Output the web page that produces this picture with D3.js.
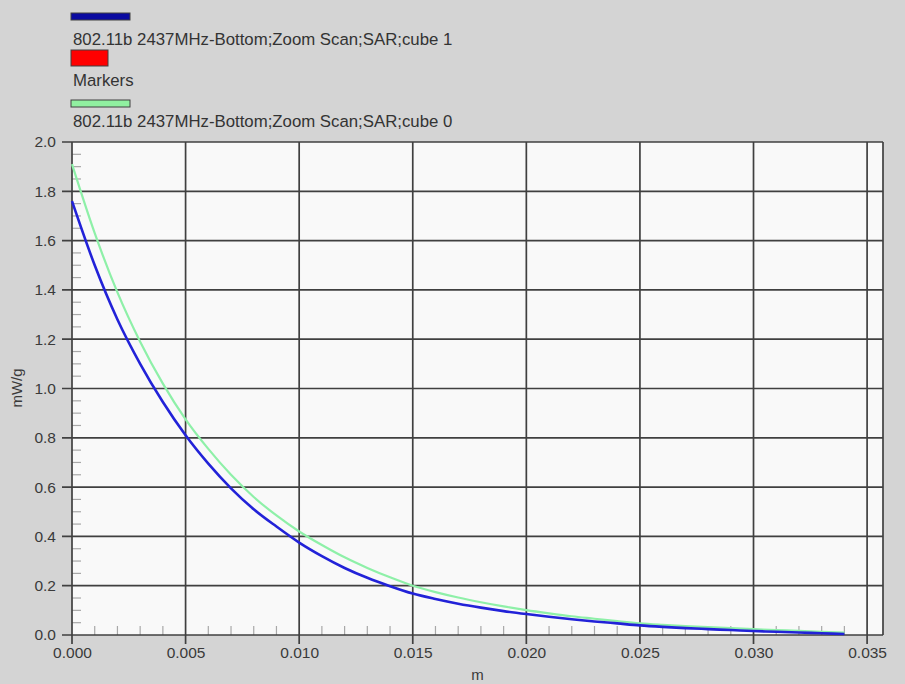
<!DOCTYPE html>
<html>
<head>
<meta charset="utf-8">
<script src="https://cdn.jsdelivr.net/npm/d3@7"></script>
<style>
  html, body { margin: 0; padding: 0; background: #d4d4d4; }
  svg { display: block; font-family: "Liberation Sans", Arial, sans-serif; }
</style>
</head>
<body>
<div id="vizholder"></div>
<script>
// distance (m) along the zoom scan
var xs = [0.000,0.001,0.002,0.003,0.004,0.005,0.006,0.007,0.008,0.009,
          0.010,0.011,0.012,0.013,0.014,0.015,0.016,0.017,0.018,0.019,
          0.020,0.021,0.022,0.023,0.024,0.025,0.026,0.027,0.028,0.029,
          0.030,0.031,0.032,0.033,0.034];
// SAR mW/g, cube 1 (blue)
var cube1 = [1.76,1.50,1.28,1.10,0.945,0.81,0.695,0.595,0.51,0.44,
             0.375,0.32,0.272,0.232,0.198,0.168,0.146,0.127,0.111,0.097,
             0.085,0.074,0.064,0.055,0.047,0.039,0.033,0.028,0.024,0.020,
             0.016,0.013,0.010,0.007,0.004];
// SAR mW/g, cube 0 (green)
var cube0 = [1.91,1.63,1.39,1.19,1.02,0.875,0.755,0.65,0.56,0.485,
             0.42,0.365,0.315,0.272,0.234,0.200,0.174,0.152,0.133,0.116,
             0.101,0.088,0.076,0.066,0.056,0.047,0.041,0.036,0.032,0.028,
             0.024,0.020,0.017,0.013,0.010];
var legendNames = ["802.11b 2437MHz-Bottom;Zoom Scan;SAR;cube 1", "Markers", "802.11b 2437MHz-Bottom;Zoom Scan;SAR;cube 0"];
var xTicks = [0, 0.005, 0.010, 0.015, 0.020, 0.025, 0.030, 0.035];
var yTicks = [0, 0.2, 0.4, 0.6, 0.8, 1.0, 1.2, 1.4, 1.6, 1.8, 2.0];

var W = 905, H = 684;
var svg = d3.select("#vizholder").append("svg").attr("width", W).attr("height", H);

svg.append("rect").attr("width", W).attr("height", H).attr("fill", "#d4d4d4");

var x = d3.scaleLinear().domain([0, 0.0357]).range([72, 883]);
var y = d3.scaleLinear().domain([0, 2.0]).range([635, 142]);

// plot background
svg.append("rect")
  .attr("x", x(0)).attr("y", y(2))
  .attr("width", x(0.0357) - x(0)).attr("height", y(0) - y(2))
  .attr("fill", "#f9f9f9");

// minor ticks
var minorY = d3.range(0, 2.0001, 0.05).filter(function(v){ return Math.abs(v*5 - Math.round(v*5)) > 1e-6; });
svg.append("g").selectAll("line").data(minorY).enter().append("line")
  .attr("x1", x(0)).attr("x2", x(0) + 9)
  .attr("y1", function(d){ return y(d); }).attr("y2", function(d){ return y(d); })
  .attr("stroke", "#a8a8a8").attr("stroke-width", 1.2);

var minorX = d3.range(0, 0.0355, 0.001).filter(function(v){ return Math.abs(v*200 - Math.round(v*200)) > 1e-6; });
svg.append("g").selectAll("line").data(minorX).enter().append("line")
  .attr("x1", function(d){ return x(d); }).attr("x2", function(d){ return x(d); })
  .attr("y1", y(0)).attr("y2", y(0) - 9)
  .attr("stroke", "#a8a8a8").attr("stroke-width", 1.2);

// grid + major ticks
svg.append("g").selectAll("line").data(yTicks).enter().append("line")
  .attr("x1", x(0) - 10).attr("x2", x(0.0357))
  .attr("y1", function(d){ return y(d); }).attr("y2", function(d){ return y(d); })
  .attr("stroke", "#404040").attr("stroke-width", 1.7);

svg.append("g").selectAll("line").data(xTicks).enter().append("line")
  .attr("x1", function(d){ return x(d); }).attr("x2", function(d){ return x(d); })
  .attr("y1", y(2)).attr("y2", y(0) + 9)
  .attr("stroke", "#404040").attr("stroke-width", 1.7);

// frame right edge
svg.append("line")
  .attr("x1", x(0.0357)).attr("x2", x(0.0357))
  .attr("y1", y(2)).attr("y2", y(0))
  .attr("stroke", "#404040").attr("stroke-width", 1.7);

// axes labels via d3 axes (lines hidden, labels only)
var yAxis = svg.append("g")
  .attr("transform", "translate(" + (x(0) - 12) + ",0)")
  .call(d3.axisLeft(y).tickValues(yTicks).tickFormat(d3.format(".1f")).tickSize(0).tickPadding(4));
yAxis.select(".domain").remove();
yAxis.selectAll("text").attr("font-size", 15.5).attr("fill", "#3a3a3a")
  .attr("font-family", "Liberation Sans, Arial, sans-serif");

var xAxis = svg.append("g")
  .attr("transform", "translate(0," + (y(0) + 9) + ")")
  .call(d3.axisBottom(x).tickValues(xTicks).tickFormat(d3.format(".3f")).tickSize(0).tickPadding(3));
xAxis.select(".domain").remove();
xAxis.selectAll("text").attr("font-size", 15.5).attr("fill", "#3a3a3a")
  .attr("font-family", "Liberation Sans, Arial, sans-serif");

svg.append("text").attr("x", (x(0) + x(0.0357)) / 2).attr("y", 680).attr("text-anchor", "middle")
  .attr("font-size", 15).attr("fill", "#3a3a3a").text("m");
svg.append("text").attr("transform", "translate(22,388) rotate(-90)").attr("text-anchor", "middle")
  .attr("font-size", 15).attr("fill", "#3a3a3a").text("mW/g");

// curves
var line = d3.line()
  .x(function(d){ return x(d[0]); })
  .y(function(d){ return y(d[1]); })
  .curve(d3.curveMonotoneX);

svg.append("path").datum(d3.zip(xs, cube0)).attr("d", line)
  .attr("fill", "none").attr("stroke", "#8ef0a8").attr("stroke-width", 2.2);
svg.append("path").datum(d3.zip(xs, cube1)).attr("d", line)
  .attr("fill", "none").attr("stroke", "#2222d8").attr("stroke-width", 2.6);

// legend
var legend = [
  { name: legendNames[0], fill: "#0a0aa0", sx: 71, sy: 13, sw: 59, sh: 7, ty: 45 },
  { name: legendNames[1], fill: "#ff0000", sx: 71, sy: 50, sw: 37, sh: 16, ty: 86 },
  { name: legendNames[2], fill: "#90f0a0", sx: 71, sy: 100, sw: 59, sh: 7, ty: 127 }
];
var lg = svg.append("g").selectAll("g").data(legend).enter().append("g");
lg.append("rect")
  .attr("x", function(d){ return d.sx; }).attr("y", function(d){ return d.sy; })
  .attr("width", function(d){ return d.sw; }).attr("height", function(d){ return d.sh; })
  .attr("fill", function(d){ return d.fill; }).attr("stroke", "#404040").attr("stroke-width", 1);
lg.append("text")
  .attr("x", 73).attr("y", function(d){ return d.ty; })
  .attr("font-size", 16.8)
  .attr("fill", "#333")
  .text(function(d){ return d.name; });
</script>
</body>
</html>
